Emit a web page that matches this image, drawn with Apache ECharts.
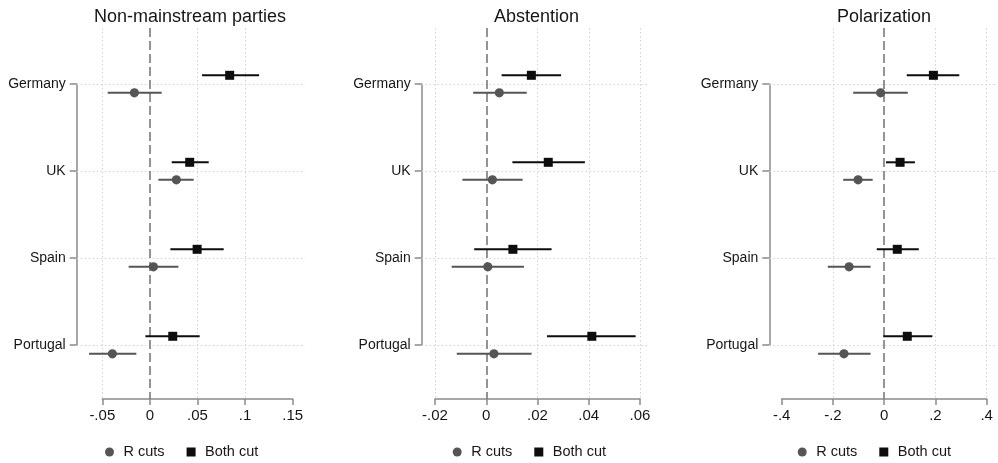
<!DOCTYPE html>
<html><head><meta charset="utf-8">
<script src="https://cdn.jsdelivr.net/npm/echarts@6/dist/echarts.min.js"></script>
<style>html,body{margin:0;padding:0;background:#fff}#c{width:998px;height:463px}</style>
</head><body><div id="c"></div>
<script>
// ---------- DATA ----------
const countries = ['Germany', 'UK', 'Spain', 'Portugal'];
const panelTitles = ['Non-mainstream parties', 'Abstention', 'Polarization'];
const seriesNames = ['R cuts', 'Both cut'];

// Non-mainstream parties
const nmR_est = [-0.0163, 0.0278, 0.0037, -0.0394];
const nmR_lo  = [-0.0443, 0.0089, -0.0223, -0.0639];
const nmR_hi  = [0.0124, 0.0460, 0.0299, -0.0142];
const nmB_est = [0.0838, 0.0418, 0.0496, 0.0240];
const nmB_lo  = [0.0548, 0.0229, 0.0215, -0.0047];
const nmB_hi  = [0.1147, 0.0618, 0.0775, 0.0523];

// Abstention
const abR_est = [0.0051, 0.0024, 0.0006, 0.0030];
const abR_lo  = [-0.0051, -0.0093, -0.0135, -0.0115];
const abR_hi  = [0.0158, 0.0142, 0.0147, 0.0177];
const abB_est = [0.0176, 0.0242, 0.0104, 0.0412];
const abB_lo  = [0.0060, 0.0102, -0.0047, 0.0237];
const abB_hi  = [0.0292, 0.0385, 0.0255, 0.0583];

// Polarization
const poR_est = [-0.014, -0.102, -0.137, -0.157];
const poR_lo  = [-0.121, -0.160, -0.220, -0.258];
const poR_hi  = [0.092, -0.045, -0.053, -0.053];
const poB_est = [0.192, 0.062, 0.051, 0.090];
const poB_lo  = [0.088, 0.007, -0.029, -0.004];
const poB_hi  = [0.293, 0.120, 0.135, 0.188];

// x-axis tick values per panel
const nmTicks = [-0.05, 0, 0.05, 0.1, 0.15];
const abTicks = [-0.02, 0, 0.02, 0.04, 0.06];
const poTicks = [-0.4, -0.2, 0, 0.2, 0.4];
// vertical reference gridlines per panel
const nmGridX = [-0.05, 0.05, 0.1];
const abGridX = [-0.02, 0.02, 0.04, 0.06];
const poGridX = [-0.2, 0.2, 0.4];

// ---------- LAYOUT / STYLE ----------
const FONT = '"Liberation Sans", Arial, Helvetica, sans-serif';
const TXT = '#161616';
const AXIS = '#8a8a8a';
const GRIDC = '#d2d2d2';
const COL_R = '#555555';
const COL_B = '#0d0d0d';
const rowTop = 84, rowBottom = 345, plotTop = 28, plotBottom = 399;
const layouts = [
  { axisX: 76.7, tMinPx: 102.3, tMaxPx: 292.7, right: 305, titleX: 190, legendLeft: 105 },
  { axisX: 421.7, tMinPx: 435, tMaxPx: 640, right: 650, titleX: 536.5, legendLeft: 452.7 },
  { axisX: 769.3, tMinPx: 781.7, tMaxPx: 986.7, right: 996, titleX: 884, legendLeft: 797.7 }
];
const panels = [
  { R: [nmR_est, nmR_lo, nmR_hi], B: [nmB_est, nmB_lo, nmB_hi], ticks: nmTicks, gx: nmGridX },
  { R: [abR_est, abR_lo, abR_hi], B: [abB_est, abB_lo, abB_hi], ticks: abTicks, gx: abGridX },
  { R: [poR_est, poR_lo, poR_hi], B: [poB_est, poB_lo, poB_hi], ticks: poTicks, gx: poGridX }
];

function fmt(v) {
  const s = String(Math.round(v * 10000) / 10000);
  return s.replace(/^(-?)0\./, '$1.');
}

function makeRender(kind, color, off) {
  return function (params, api) {
    const yi = api.value(0);
    const c = api.coord([api.value(1), yi]);
    const l = api.coord([api.value(2), yi]);
    const h = api.coord([api.value(3), yi]);
    const y = c[1] + off;
    const marker = kind === 'square'
      ? { type: 'rect', shape: { x: c[0] - 4.5, y: y - 4.5, width: 9, height: 9 }, style: { fill: color } }
      : { type: 'circle', shape: { cx: c[0], cy: y, r: 4.6 }, style: { fill: color } };
    return {
      type: 'group',
      children: [
        { type: 'line', shape: { x1: l[0], y1: y, x2: h[0], y2: y }, style: { stroke: color, lineWidth: 2 } },
        marker
      ]
    };
  };
}

const grid = [], xAxis = [], yAxis = [], series = [], legend = [], graphic = [];
const rowStep = (rowBottom - rowTop) / (countries.length - 1);
const yMin = -(rowTop - plotTop) / rowStep;
const yMax = (countries.length - 1) + (plotBottom - rowBottom) / rowStep;

panels.forEach((p, i) => {
  const L = layouts[i];
  const tMin = p.ticks[0], tMax = p.ticks[p.ticks.length - 1];
  const scale = (L.tMaxPx - L.tMinPx) / (tMax - tMin);
  const xMinA = tMin - (L.tMinPx - L.axisX) / scale;
  const xMaxA = tMax + (L.right - L.tMaxPx) / scale;
  const gA = 3 * i, gB = 3 * i + 1, gC = 3 * i + 2;

  // Grid A: data
  grid.push({ left: L.axisX, width: L.right - L.axisX, top: plotTop, height: plotBottom - plotTop, outerBoundsMode: 'none' });
  xAxis.push({ gridIndex: gA, type: 'value', min: xMinA, max: xMaxA, show: false });
  yAxis.push({ gridIndex: gA, type: 'value', min: yMin, max: yMax, inverse: true, show: false });

  // Grid B: x axis display
  grid.push({ left: L.tMinPx, width: L.tMaxPx - L.tMinPx, top: plotBottom - 50, height: 50, outerBoundsMode: 'none' });
  xAxis.push({
    gridIndex: gB, type: 'value', min: tMin, max: tMax, interval: p.ticks[1] - p.ticks[0],
    axisLine: { show: true, onZero: false, lineStyle: { color: AXIS, width: 1.5 } },
    axisTick: { show: true, length: 6, lineStyle: { color: AXIS, width: 1.5 } },
    axisLabel: { margin: 9, fontSize: 15, color: TXT, fontFamily: FONT, formatter: fmt, showMinLabel: true, showMaxLabel: true },
    splitLine: { show: false }
  });
  yAxis.push({ gridIndex: gB, type: 'value', show: false });

  // Grid C: y axis display
  grid.push({ left: L.axisX, width: 40, top: rowTop, height: rowBottom - rowTop, outerBoundsMode: 'none' });
  xAxis.push({ gridIndex: gC, type: 'value', show: false });
  yAxis.push({
    gridIndex: gC, type: 'category', data: countries, boundaryGap: false, inverse: true,
    axisLine: { show: true, onZero: false, lineStyle: { color: AXIS, width: 1.5 } },
    axisTick: { show: true, length: 7, lineStyle: { color: AXIS, width: 1.5 } },
    axisLabel: { margin: 11, fontSize: 14, color: TXT, fontFamily: FONT, interval: 0 },
    splitLine: { show: false }
  });

  // reference lines (gridlines + zero line)
  const mlData = [];
  countries.forEach((c, k) => mlData.push({ yAxis: k, lineStyle: { color: GRIDC, type: [1.5, 2.5], width: 1 } }));
  p.gx.forEach(v => mlData.push({ xAxis: v, lineStyle: { color: GRIDC, type: [1.5, 2.5], width: 1 } }));
  mlData.push({ xAxis: 0, lineStyle: { color: '#7a7a7a', type: [9, 4], width: 1.6 } });
  series.push({
    type: 'line', xAxisIndex: gA, yAxisIndex: gA, data: [], z: 1, silent: true,
    markLine: { silent: true, z: 1, symbol: ['none', 'none'], label: { show: false }, data: mlData, animation: false }
  });

  const toData = (arr) => countries.map((c, k) => [k, arr[0][k], arr[1][k], arr[2][k]]);
  series.push({
    name: seriesNames[0], type: 'custom', xAxisIndex: gA, yAxisIndex: gA, z: 10,
    itemStyle: { color: COL_R }, encode: { x: [1, 2, 3], y: 0 },
    renderItem: makeRender('circle', COL_R, 8.8), data: toData(p.R)
  });
  series.push({
    name: seriesNames[1], type: 'custom', xAxisIndex: gA, yAxisIndex: gA, z: 10,
    itemStyle: { color: COL_B }, encode: { x: [1, 2, 3], y: 0 },
    renderItem: makeRender('square', COL_B, -8.7), data: toData(p.B)
  });

  legend.push({
    left: L.legendLeft, top: 444.5, padding: 0, orient: 'horizontal',
    itemWidth: 18, itemHeight: 9, itemGap: 22, selectedMode: false,
    data: [
      { name: seriesNames[0], icon: 'circle' },
      { name: seriesNames[1], icon: 'path://M0,0L10,0L10,10L0,10Z' }
    ],
    textStyle: { fontSize: 14.5, color: TXT, fontFamily: FONT }
  });

  graphic.push({
    type: 'text', x: L.titleX, y: 17,
    style: { text: panelTitles[i], fontSize: 18, fill: TXT, fontFamily: FONT, align: 'center', verticalAlign: 'middle' }
  });
});

const chart = echarts.init(document.getElementById('c'), null, { renderer: 'canvas' });
chart.setOption({
  animation: false,
  backgroundColor: '#ffffff',
  grid, xAxis, yAxis, series, legend, graphic,
  tooltip: { show: false }
});
</script>
</body></html>
